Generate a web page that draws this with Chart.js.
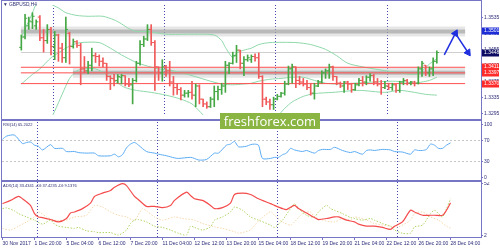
<!DOCTYPE html>
<html>
<head>
<meta charset="utf-8">
<title>GBPUSD H4</title>
<script src="https://cdn.jsdelivr.net/npm/chart.js@4.4.1/dist/chart.umd.min.js"></script>
<style>
  html, body { margin: 0; padding: 0; background: #fff; }
  #wrap { position: relative; width: 500px; height: 250px; overflow: hidden; background: #fff; }
  #wrap canvas { position: absolute; left: 0; }
  .fr { position: absolute; background: #7676c4; }
  .ttl { position: absolute; font-family: 'Liberation Sans', sans-serif; font-size: 10px; line-height: 10px; color: #2c2c74; white-space: nowrap; transform-origin: 0 0; }
  #logo { position: absolute; left: 220px; top: 113px; width: 100px; height: 16px; background: #8ab543; color: #fff; font: 13px/16px 'Open Sans', sans-serif; text-align: center; }
</style>
</head>
<body>
<div id="wrap">
  <canvas id="cMain" width="500" height="120" style="top:0"></canvas>
  <canvas id="cRsi" width="500" height="60" style="top:121px"></canvas>
  <canvas id="cAdx" width="500" height="68" style="top:182px"></canvas>

  <div class="fr" style="left:1px;top:0;width:481px;height:1px"></div>
  <div class="fr" style="left:1px;top:0;width:1px;height:238px"></div>
  <div class="fr" style="left:481px;top:0;width:1px;height:238px"></div>
  <div class="fr" style="left:1px;top:119px;width:481px;height:2px"></div>
  <div class="fr" style="left:1px;top:180px;width:481px;height:2px"></div>
  <div class="fr" style="left:1px;top:237px;width:481px;height:1px"></div>

  <div class="ttl" style="left:3px;top:2px;transform:scale(0.48)">&#9660; GBPUSD,H4</div>
  <div class="ttl" style="left:3px;top:123px;transform:scale(0.4)">RSI(14) 65.2022</div>
  <div class="ttl" style="left:3px;top:184px;transform:scale(0.4)">ADX(14) 33.4341 +DI:37.4235 -DI:9.1376</div>

  <div id="logo">freshforex.com</div>
</div>

<script>
// ---- GBPUSD H4: candles + Bollinger, RSI(14), ADX(14) ----

// OHLC per 4h bar (bar 0 = 30 Nov 2017)
var opens = [1.3461,1.3487,1.3515,1.3525,1.3515,1.3537,1.3485,1.3478,1.3506,1.3463,
  1.3492,1.3459,1.3435,1.3496,1.3463,1.3475,1.3466,1.3407,1.3402,1.3416,
  1.3440,1.3438,1.3426,1.3421,1.3388,1.3383,1.3378,1.3386,1.3390,1.3369,
  1.3367,1.3378,1.3421,1.3468,1.3482,1.3506,1.3473,1.3412,1.3397,1.3412,
  1.3402,1.3374,1.3360,1.3355,1.3341,1.3346,1.3348,1.3341,1.3364,1.3331,
  1.3319,1.3312,1.3331,1.3350,1.3355,1.3364,1.3416,1.3421,1.3440,1.3454,
  1.3421,1.3430,1.3430,1.3438,1.3435,1.3388,1.3331,1.3324,1.3317,1.3331,
  1.3338,1.3346,1.3369,1.3407,1.3412,1.3378,1.3374,1.3369,1.3360,1.3346,
  1.3364,1.3374,1.3397,1.3402,1.3412,1.3388,1.3371,1.3364,1.3374,1.3369,
  1.3355,1.3367,1.3378,1.3374,1.3386,1.3390,1.3374,1.3369,1.3360,1.3364,
  1.3360,1.3367,1.3353,1.3374,1.3378,1.3371,1.3374,1.3371,1.3407,1.3416,
  1.3397,1.3407,1.3426];
var highs = [1.3492,1.3544,1.3537,1.3548,1.3530,1.3541,1.3506,1.3518,1.3511,1.3501,
  1.3494,1.3471,1.3537,1.3499,1.3482,1.3478,1.3471,1.3438,1.3426,1.3459,
  1.3447,1.3442,1.3435,1.3421,1.3390,1.3393,1.3393,1.3393,1.3390,1.3383,
  1.3383,1.3426,1.3478,1.3489,1.3518,1.3518,1.3478,1.3412,1.3430,1.3416,
  1.3426,1.3388,1.3371,1.3360,1.3353,1.3353,1.3376,1.3369,1.3367,1.3331,
  1.3324,1.3336,1.3364,1.3364,1.3371,1.3426,1.3423,1.3449,1.3466,1.3454,
  1.3438,1.3442,1.3442,1.3445,1.3447,1.3390,1.3336,1.3331,1.3336,1.3343,
  1.3348,1.3376,1.3414,1.3419,1.3412,1.3388,1.3383,1.3378,1.3371,1.3371,
  1.3378,1.3402,1.3407,1.3419,1.3414,1.3388,1.3374,1.3376,1.3376,1.3371,
  1.3371,1.3383,1.3388,1.3390,1.3395,1.3393,1.3383,1.3378,1.3376,1.3371,
  1.3371,1.3369,1.3376,1.3383,1.3381,1.3376,1.3376,1.3412,1.3426,1.3416,
  1.3412,1.3435,1.3452];
var lows = [1.3454,1.3482,1.3506,1.3508,1.3506,1.3478,1.3449,1.3471,1.3442,1.3430,
  1.3426,1.3423,1.3423,1.3419,1.3459,1.3461,1.3367,1.3397,1.3395,1.3402,
  1.3423,1.3414,1.3412,1.3378,1.3355,1.3364,1.3371,1.3369,1.3364,1.3362,
  1.3319,1.3374,1.3416,1.3463,1.3478,1.3466,1.3353,1.3378,1.3376,1.3388,
  1.3364,1.3341,1.3343,1.3329,1.3336,1.3336,1.3331,1.3312,1.3319,1.3312,
  1.3308,1.3310,1.3312,1.3329,1.3343,1.3348,1.3395,1.3419,1.3423,1.3407,
  1.3390,1.3426,1.3423,1.3426,1.3383,1.3312,1.3317,1.3305,1.3305,1.3329,
  1.3336,1.3341,1.3367,1.3371,1.3360,1.3367,1.3364,1.3355,1.3341,1.3331,
  1.3362,1.3371,1.3383,1.3383,1.3378,1.3367,1.3360,1.3348,1.3355,1.3348,
  1.3353,1.3364,1.3364,1.3367,1.3376,1.3367,1.3364,1.3343,1.3357,1.3355,
  1.3353,1.3348,1.3348,1.3367,1.3367,1.3367,1.3364,1.3369,1.3388,1.3390,
  1.3388,1.3390,1.3421];
var closes = [1.3487,1.3534,1.3527,1.3539,1.3525,1.3485,1.3478,1.3506,1.3463,1.3492,
  1.3459,1.3435,1.3506,1.3463,1.3475,1.3466,1.3407,1.3402,1.3416,1.3440,
  1.3438,1.3426,1.3421,1.3388,1.3383,1.3378,1.3388,1.3390,1.3369,1.3367,
  1.3378,1.3421,1.3468,1.3482,1.3506,1.3473,1.3412,1.3397,1.3412,1.3402,
  1.3374,1.3360,1.3355,1.3341,1.3346,1.3348,1.3341,1.3364,1.3331,1.3319,
  1.3312,1.3331,1.3350,1.3355,1.3364,1.3416,1.3421,1.3440,1.3454,1.3421,
  1.3430,1.3435,1.3438,1.3435,1.3388,1.3331,1.3324,1.3317,1.3331,1.3338,
  1.3346,1.3369,1.3407,1.3412,1.3378,1.3374,1.3369,1.3360,1.3346,1.3364,
  1.3374,1.3397,1.3402,1.3412,1.3388,1.3371,1.3364,1.3374,1.3369,1.3355,
  1.3367,1.3378,1.3374,1.3386,1.3390,1.3374,1.3369,1.3360,1.3364,1.3360,
  1.3367,1.3353,1.3374,1.3378,1.3371,1.3374,1.3371,1.3407,1.3421,1.3397,
  1.3407,1.3426,1.3448];

// Bollinger bands, read at these bars
var bbUpperX = [0,1,2,3,4,5,7,8,10,12,15,18,22,25,27,29,31,34,39,46,52,54,55,57,58,60,62,64,67,74,78,82,85,88,92,97,102,106,108,110,112];
var bbUpper = [1.3487,1.3508,1.3527,1.3548,1.3570,1.3586,1.3586,1.3570,1.3560,1.3548,
  1.3541,1.3539,1.3539,1.3530,1.3520,1.3508,1.3501,1.3501,1.3494,1.3494,
  1.3492,1.3478,1.3461,1.3435,1.3447,1.3454,1.3459,1.3468,1.3473,1.3473,
  1.3468,1.3456,1.3440,1.3421,1.3412,1.3404,1.3397,1.3393,1.3402,1.3419,1.3433];
var bbMidX = [0,3,5,8,10,12,14,16,21,24,27,31,34,37,41,46,51,54,57,60,62,64,67,70,73,76,79,82,85,90,95,100,104,106,108,110,112];
var bbMid = [1.3369,1.3393,1.3407,1.3435,1.3447,1.3459,1.3468,1.3473,1.3473,1.3459,
  1.3442,1.3423,1.3414,1.3407,1.3402,1.3390,1.3376,1.3369,1.3367,1.3369,
  1.3371,1.3376,1.3381,1.3383,1.3386,1.3386,1.3378,1.3371,1.3369,1.3371,
  1.3374,1.3376,1.3374,1.3371,1.3374,1.3378,1.3386];
var bbLowerX = [0,4,8,9,11,13,15,17,20,23,26,28,31,35,39,43,46,48,50,56,62,66,69,71,73,76,79,84,91,98,102,106,109,112];
var bbLower = [1.3230,1.3250,1.3284,1.3301,1.3343,1.3383,1.3402,1.3407,1.3407,1.3393,
  1.3371,1.3360,1.3353,1.3348,1.3341,1.3331,1.3319,1.3301,1.3284,1.3277,
  1.3284,1.3279,1.3289,1.3308,1.3324,1.3338,1.3345,1.3348,1.3353,1.3348,
  1.3353,1.3348,1.3343,1.3341];

// RSI(14)
var rsiX = [0,1,3,5,6,7,8,9,10,12,13,15,16,18,19,21,23,24,27,28,29,30,31,32,33,34,36,38,39,41,
  43,44,47,48,49,51,53,54,56,57,58,59,61,62,63,64,65,67,68,69,70,71,72,73,75,76,78,79,80,82,
  83,85,87,88,90,91,92,93,95,97,98,100,102,103,104,105,106,107,108,109,110,111,112];
var rsiVals = [72,78,80,64,66,67,61,59,52,62,55,55,49,49,47,46,46,41,41,44,39,43,56,63,66,61,49,46,44,41,
  37,36,38,36,33,34,46,46,61,63,68,58,59,62,63,61,36,36,38,38,43,46,55,52,49,51,46,51,53,53,
  57,51,47,49,44,51,52,51,53,52,49,48,44,52,51,51,53,63,61,55,55,61,65.2];

// ADX(14) with +DI / -DI
var adxX = [0,2,4,5,7,8,9,10,12,14,16,17,18,20,22,23,25,27,28,30,31,33,34,36,38,40,42,43,46,47,
  48,50,52,53,55,57,58,60,62,64,67,68,70,71,73,74,76,78,79,81,83,84,86,88,89,91,93,95,97,98,
  100,102,103,105,107,108,110,111,112];
var adxVals = [32.7,35.8,39.6,37.4,31,23.1,19.9,19.3,17.4,15.1,18.4,23.7,24.7,27.9,33.2,39.6,42.8,45.3,48.5,52,
  50.1,39.6,36.5,30.1,30.1,28.9,31,35.8,43.7,40.6,37.4,35.8,31,27.9,28.9,33.2,41.5,42.8,41.5,37.4,
  32.7,31,27.9,27,31,27.9,23.7,19.3,17.4,18.4,19.9,19.9,16.8,15.1,13,11.1,11,9.8,7.9,11,
  15.1,26.3,24.7,21.5,21.5,21.5,21.5,26.3,33.4];
var pdiX = [0,1,3,4,6,8,10,12,13,14,16,18,19,21,23,24,27,29,31,32,33,34,36,38,40,42,44,46,47,48,
  50,52,53,55,57,58,60,62,64,67,68,70,72,73,74,76,78,79,81,82,83,85,87,88,90,92,93,95,97,98,
  100,102,103,105,107,108,109,110,111,112];
var pdiVals = [27.9,28.6,25.7,23.1,19.9,16.8,13,16.8,13,11,9.8,8.9,9.8,6.6,5.7,4.8,4.8,2.5,7.3,13.6,
  16.8,17.4,15.1,11,9.8,7.3,4.2,2.5,11,9.8,7.3,10.4,16.8,19.9,24.7,29.4,26.3,19.9,16.8,12,
  9.8,16.8,27.9,32.7,27.9,21.5,19.9,24.7,31,27.9,26.3,23.1,19.3,18.4,16.8,18.4,16.8,13.6,11,7.3,
  4.2,4.2,10.4,12,23.1,26.3,23.1,19.9,27.9,37.4];
var mdiX = [0,2,4,6,8,9,11,13,16,18,21,23,25,27,29,31,33,35,36,38,40,43,45,48,50,53,55,58,59,62,
  64,67,68,70,72,73,75,77,78,80,83,85,87,88,91,93,97,99,102,103,105,107,109,111,112];
var mdiVals = [8.9,7.3,11,15.1,19.9,24.7,19.9,16.8,16.8,19.9,21.5,31,29.4,24.7,21.5,19.9,16.8,27.9,25.7,19.9,
  16.8,19.9,18.4,16.8,13.6,10.4,8.9,5.7,4.2,7.5,16,25,21.5,15.1,12,15.1,23.1,24.7,19.9,16.8,
  15.1,18.4,16.8,19.9,16.8,13.6,11,10.4,16.8,23.1,24.7,19.9,16.8,11,9.1];

// axes, levels, annotations
var xTickBars = [0,8,16,24,32,40,48,56,64,72,80,88,96,104,112];
var xTickLabels = ['30 Nov 2017','1 Dec 20:00','5 Dec 04:00','6 Dec 12:00','7 Dec 20:00','11 Dec 04:00',
  '12 Dec 12:00','13 Dec 20:00','15 Dec 04:00','18 Dec 12:00','19 Dec 20:00','21 Dec 04:00',
  '22 Dec 12:00','26 Dec 20:00','28 Dec 04:00'];
var separatorBars = [8.5, 38.5, 68.5, 98.5];
var priceTicks = [1.3295, 1.3335, 1.3375, 1.3415, 1.3455, 1.3495, 1.3535];
var rsiTicks = [0, 30, 70, 100];
var rsiLevels = [30, 70];
var adxTicks = [2, 52];
var redLevels = [1.3411, 1.3397, 1.3370];
var zoneLevels = [1.3501, 1.3397];
var zoneStartBars = [-0.125, 13.9];
var bidPrice = 1.3448;
var arrowUpX = [114, 117], arrowUpY = [1.3442, 1.3496];
var arrowDownX = [117, 120.4], arrowDownY = [1.3496, 1.3448];
var boxLevels = [1.3501, 1.3448, 1.3411, 1.3397, 1.3370];
var boxTexts = ['1.3501', '1.3448', '1.3411', '1.3397', '1.3370'];
var boxColors = ['#1b2bd6', '#0c0c62', '#ff2b2b', '#ff2b2b', '#ff2b2b'];

// ---- styling ----
var X_MIN = -0.125, X_MAX = 119.625, AXIS_W = 19, TICK_OFF = 0.3125;
var FRAME = '#7676c4', TXT = '#2c2c7a';
var UP = '#45a845', DOWN = '#f05a5a', DOJI = '#404040';
var BAND = '#8fd8aa', RED = '#ff4f4f', ARROW = '#1f2fe0';

Chart.defaults.font.family = "'Liberation Sans', sans-serif";
Chart.defaults.font.size = 5;
Chart.defaults.plugins.legend.display = false;
Chart.defaults.plugins.tooltip.enabled = false;

function pts(xs, ys) { return xs.map(function(x, i) { return { x: x, y: ys[i] }; }); }
function hLine(x0, x1, v) { return [{ x: x0, y: v }, { x: x1, y: v }]; }
function lineSet(data, color, width, order, extra) {
  var ds = { type: 'line', data: data, borderColor: color, borderWidth: width, pointRadius: 0, tension: 0.25, fill: false, order: order };
  for (var k in extra) ds[k] = extra[k];
  return ds;
}

function xAxis(show) {
  return {
    type: 'linear', min: X_MIN, max: X_MAX, display: show,
    afterBuildTicks: function(s) { s.ticks = xTickBars.map(function(v) { return { value: v }; }); },
    afterFit: function(s) { s.paddingLeft = 0; s.paddingRight = 0; if (show) s.height = 13; },
    grid: { drawOnChartArea: false, drawTicks: true, tickLength: 3, tickColor: FRAME },
    border: { display: false },
    ticks: { autoSkip: false, maxRotation: 0, align: 'start', padding: 1, color: TXT, font: { size: 5 },
      callback: function(v, i) { return xTickLabels[i]; } }
  };
}

function rightAxis(min, max, tickVals, fmt, gridColor) {
  return {
    type: 'linear', position: 'right', min: min, max: max,
    afterBuildTicks: function(s) { s.ticks = tickVals.map(function(v) { return { value: v }; }); },
    afterFit: function(s) { s.width = AXIS_W; s.paddingTop = 0; s.paddingBottom = 0; },
    grid: { drawOnChartArea: !!gridColor, color: gridColor || FRAME, drawTicks: true, tickLength: 2, tickColor: FRAME },
    border: { display: false, dash: [2, 2] },
    ticks: { padding: 1, color: TXT, font: { size: 5 }, callback: fmt }
  };
}

var separatorPlugin = {
  id: 'separators',
  beforeDatasetsDraw: function(chart) {
    var ctx = chart.ctx, xs = chart.scales.x, a = chart.chartArea;
    ctx.save(); ctx.strokeStyle = '#4646b0'; ctx.lineWidth = 1; ctx.setLineDash([1, 2]);
    separatorBars.forEach(function(b) {
      var px = Math.round(xs.getPixelForValue(b)) + 0.5;
      ctx.beginPath(); ctx.moveTo(px, a.top); ctx.lineTo(px, a.bottom); ctx.stroke();
    });
    ctx.restore();
  }
};

var priceBoxPlugin = {
  id: 'priceBoxes',
  afterDraw: function(chart) {
    var ctx = chart.ctx, ys = chart.scales.y, x0 = chart.chartArea.right + 1;
    ctx.save(); ctx.font = "5px 'Liberation Sans'"; ctx.textBaseline = 'middle'; ctx.textAlign = 'left';
    boxLevels.forEach(function(v, i) {
      var py = Math.round(ys.getPixelForValue(v));
      ctx.fillStyle = boxColors[i]; ctx.fillRect(x0, py - 3.5, chart.width - x0 - 1, 7);
      ctx.fillStyle = '#fff'; ctx.fillText(boxTexts[i], x0 + 2, py);
    });
    ctx.restore();
  }
};

var baseOpts = { responsive: false, animation: false, devicePixelRatio: 1, events: [] };
function opts(pad, scales) {
  var o = { layout: { padding: pad }, scales: scales };
  for (var k in baseOpts) o[k] = baseOpts[k];
  return o;
}

// ---- main price panel ----
var barColors = closes.map(function(c, i) { return c > opens[i] ? UP : (c < opens[i] ? DOWN : DOJI); });
var mainSets = [];
zoneLevels.forEach(function(v, i) {
  mainSets.push(lineSet(hLine(zoneStartBars[i], X_MAX, v), 'rgba(200,200,200,0.45)', 10, 12, { tension: 0 }));
  mainSets.push(lineSet(hLine(zoneStartBars[i], X_MAX, v), 'rgba(150,150,150,0.55)', 4, 11, { tension: 0 }));
});
mainSets.push(lineSet(hLine(X_MIN, X_MAX, bidPrice), '#cfcfcf', 1, 10, { tension: 0 }));
mainSets.push(lineSet(pts(bbUpperX, bbUpper), BAND, 1, 9));
mainSets.push(lineSet(pts(bbMidX, bbMid), BAND, 1, 9));
mainSets.push(lineSet(pts(bbLowerX, bbLower), BAND, 1, 9));
redLevels.forEach(function(v) { mainSets.push(lineSet(hLine(X_MIN, X_MAX, v), RED, 1, 7, { tension: 0 })); });
mainSets.push({
  type: 'bar', order: 5, barThickness: 1, borderWidth: 0, backgroundColor: barColors,
  data: highs.map(function(h, i) { return { x: i, y: [lows[i], h] }; })
});
mainSets.push({
  type: 'scatter', order: 4, showLine: false, pointStyle: 'line', pointRadius: 1, pointBorderWidth: 1,
  pointBorderColor: barColors, data: opens.map(function(o, i) { return { x: i - TICK_OFF, y: o }; })
});
mainSets.push({
  type: 'scatter', order: 4, showLine: false, pointStyle: 'line', pointRadius: 1, pointBorderWidth: 1,
  pointBorderColor: barColors, data: closes.map(function(c, i) { return { x: i + TICK_OFF, y: c }; })
});
mainSets.push(lineSet(pts(arrowUpX, arrowUpY), ARROW, 1.5, 1, {
  tension: 0, clip: false, pointStyle: 'triangle', pointRadius: [0, 4], pointRotation: [0, 27],
  pointBackgroundColor: ARROW, pointBorderColor: ARROW, pointBorderWidth: 1
}));
mainSets.push(lineSet(pts(arrowDownX, arrowDownY), ARROW, 1.5, 1, {
  tension: 0, clip: false, pointStyle: 'triangle', pointRadius: [0, 4], pointRotation: [0, 146],
  pointBackgroundColor: ARROW, pointBorderColor: ARROW, pointBorderWidth: 1
}));

new Chart(document.getElementById('cMain'), {
  type: 'line',
  data: { datasets: mainSets },
  options: opts({ left: 2, top: 2, right: 0, bottom: 1 }, {
    x: xAxis(false),
    y: rightAxis(1.32912, 1.35673, priceTicks, function(v) { return v.toFixed(4); })
  }),
  plugins: [separatorPlugin, priceBoxPlugin]
});

// ---- RSI panel ----
new Chart(document.getElementById('cRsi'), {
  type: 'line',
  data: { datasets: [lineSet(pts(rsiX, rsiVals), '#5aabf4', 1, 1)] },
  options: opts({ left: 2, top: 1, right: 0, bottom: 1 }, {
    x: xAxis(false),
    y: rightAxis(-4.7, 104.7, rsiTicks, function(v) { return String(v); }, function(c) {
      return (c.tick && rsiLevels.indexOf(c.tick.value) >= 0) ? '#c6c6c6' : 'rgba(0,0,0,0)';
    })
  }),
  plugins: [separatorPlugin]
});

// ---- ADX panel ----
new Chart(document.getElementById('cAdx'), {
  type: 'line',
  data: { datasets: [
    lineSet(pts(mdiX, mdiVals), '#f7d8ae', 1, 3, { borderDash: [1.5, 1.5] }),
    lineSet(pts(pdiX, pdiVals), '#b2d468', 1, 2, { borderDash: [1.5, 1.5] }),
    lineSet(pts(adxX, adxVals), '#f44c4c', 1.2, 1)
  ] },
  options: opts({ left: 2, top: 0, right: 0, bottom: 0 }, {
    x: xAxis(true),
    y: rightAxis(0.6, 53.5, adxTicks, function(v) { return String(v); })
  }),
  plugins: [separatorPlugin]
});
</script>
</body>
</html>
